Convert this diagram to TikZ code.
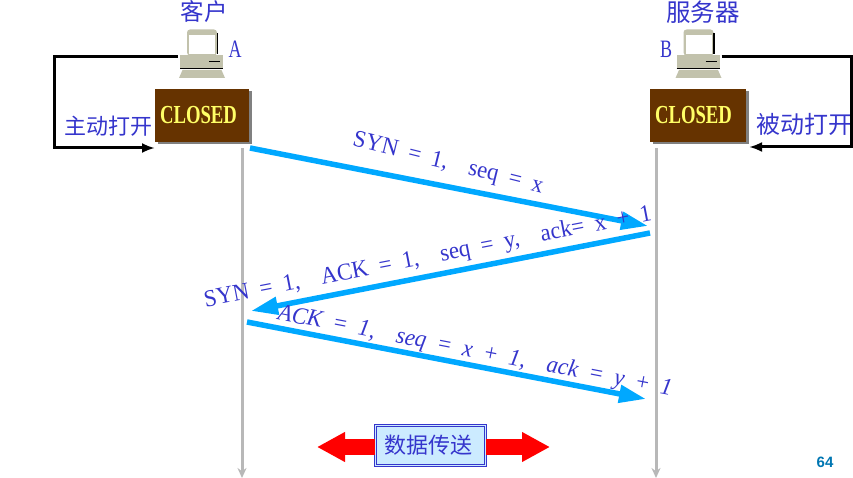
\documentclass[tikz,border=0pt]{standalone}
\usepackage{fontspec}
\setmainfont{Liberation Serif}
\setsansfont{Liberation Sans}
\newfontfamily\cjk{Noto Sans CJK SC}
\newfontfamily\narrowserif[FakeStretch=0.72]{Liberation Serif}
\newfontfamily\msgserif[FakeStretch=0.95, WordSpace=1.9]{Liberation Serif}
\usetikzlibrary{
    arrows.meta,
    shadows
}
\definecolor{labelblue}{HTML}{3535CC}
\definecolor{msgblue}{HTML}{00A8FF}
\definecolor{closedbrown}{HTML}{663300}
\definecolor{closedtext}{HTML}{FFFF66}
\definecolor{pcgray}{HTML}{C2C2AC}
\definecolor{databox}{HTML}{CCEBFF}
\tikzset{
    closedbox/.style={draw=none, fill=closedbrown, minimum height=53pt, inner ysep=0pt, inner xsep=5pt,
        text width=84pt, align=left, text=closedtext, font=\narrowserif\bfseries\fontsize{26}{26}\selectfont,
        drop shadow={shadow xshift=2.5pt, shadow yshift=-2.5pt, fill=gray, opacity=1}},
    cjklabel/.style={text=labelblue, inner sep=0pt, font=\cjk\fontsize{22}{22}\selectfont},
    hostlabel/.style={text=labelblue, inner sep=0pt, font=\narrowserif\fontsize{25}{25}\selectfont},
    msglabel/.style={text=labelblue, inner sep=0pt, font=\msgserif\fontsize{24}{24}\selectfont},
    lifeline/.style={draw=black!28, line width=3pt, -{Stealth[length=10pt,width=9pt]}},
    msgarrow/.style={draw=msgblue, line width=5.5pt, -{Triangle[length=27pt,width=17pt]}},
    openarrow/.style={draw=black, line width=3pt, -{Latex[length=13pt,width=10pt]}},
    dataarrow/.style={draw=red, line width=16pt, -{Triangle[length=28pt,width=28pt]}},
    hostnode/.style={minimum width=47pt, minimum height=48pt, inner sep=0pt},
    computer/.pic={
        \fill[pcgray, rounded corners=3pt] (-14.5,-24) rectangle (15.5,2);
        \draw[black, line width=1.2pt] (16,-20) -- (16,1);
        \fill[white] (-12.5,-18.5) rectangle (13.5,0.5);
        \fill[pcgray] (-21.5,1.5) rectangle (21.5,15);
        \draw[black, line width=1pt] (7.5,8.5) -- (18.5,8.5);
        \draw[black, line width=1pt] (-21.5,15.5) -- (21.5,15.5);
        \fill[pcgray] (-19,16.5) -- (20,16.5) -- (23.5,24.5) -- (-22.5,24.5) -- cycle;
    }
}
\begin{document}
\begin{tikzpicture}[x=1pt, y=-1pt]
    \useasboundingbox (0,0) rectangle (853,478);
    % hosts
    \node (pca) [hostnode] at (201.5,53.5) {};
    \node (pcb) [hostnode] at (698,53.5) {};
    \node (closeda) [closedbox] at (202,115.5) {CLOSED};
    \node (closedb) [closedbox, text width=86pt] at (698,115.5) {CLOSED};
    \node (client) [cjklabel, font=\cjk\fontsize{23.5}{24}\selectfont] at (204,12) {客户};
    \node (server) [cjklabel, font=\cjk\fontsize{24.5}{25}\selectfont] at (703,12) {服务器};
    \node (namea) [hostlabel] at (235,49) {A};
    \node (nameb) [hostlabel] at (666,49) {B};
    \node (active) [cjklabel] at (108,126) {主动打开};
    \node (passive) [cjklabel, font=\cjk\fontsize{24}{24}\selectfont] at (804,124) {被动打开};
    % open loops
    \coordinate (loopa) at (54,57);
    \coordinate (enda) at (155,148);
    \coordinate (loopb) at (851,57);
    \coordinate (endb) at (749,147);
    \draw[openarrow] ([yshift=-3.5pt]pca.west) -- (loopa) |- (enda);
    \draw[openarrow] ([yshift=-3.5pt]pcb.east) -- (loopb) |- (endb);
    \pic at (pca) {computer};
    \pic at (pcb) {computer};
    % time lines
    \coordinate (topa) at (242,148);
    \coordinate (bota) at (242,478);
    \coordinate (topb) at (656,148);
    \coordinate (botb) at (656,478);
    \draw[lifeline] (topa) -- (bota);
    \draw[lifeline] (topb) -- (botb);
    % handshake
    \coordinate (syna) at (250,148);
    \coordinate (synb) at (648,226);
    \coordinate (ackb) at (650,233);
    \coordinate (acka) at (251,311);
    \coordinate (lasta) at (247,322);
    \coordinate (lastb) at (646,399);
    \draw[msgarrow] (syna) -- (synb);
    \draw[msgarrow] (ackb) -- (acka);
    \draw[msgarrow] (lasta) -- (lastb);
    \node (msgone) [msglabel, rotate=-14] at (448,164) {SYN = 1,\ \ seq = x};
    \node (msgtwo) [msglabel, rotate=11] at (428,258) {SYN = 1,\ \ ACK = 1,\ \ seq = y,\ \ ack= x + 1};
    \node (msgthree) [msglabel, rotate=-11, font=\msgserif\itshape\fontsize{24}{24}\selectfont] at (475,352) {ACK = 1,\ \ seq = x + 1,\ \ ack = y + 1};
    % data transfer
    \coordinate (datal) at (317,447);
    \coordinate (datar) at (550,447);
    \node (data) [cjklabel, fill=databox, draw=labelblue, double=databox, double distance=1.5pt, line width=1pt,
        minimum width=110pt, minimum height=40pt] at (430.5,445.5) {\hspace*{-4pt}数据传送};
    \draw[dataarrow] (data.west |- datal) -- (datal);
    \draw[dataarrow] (data.east |- datar) -- (datar);
    % page number
    \node (page) [inner sep=0pt, text=msgblue!70!black, font=\sffamily\bfseries\fontsize{15}{15}\selectfont] at (825,462) {64};
\end{tikzpicture}
\end{document}
